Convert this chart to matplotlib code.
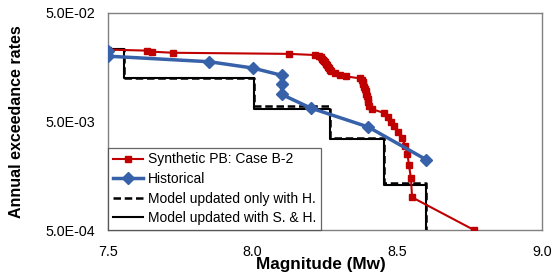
import numpy as np
import matplotlib
matplotlib.use("Agg")
import matplotlib.pyplot as plt
from matplotlib.ticker import FixedLocator, FuncFormatter

plt.rcParams['font.family'] = ['Liberation Sans', 'DejaVu Sans']

# Synthetic PB: Case B-2 (rate = n / 2000 yr)
synth_mag = [7.500, 7.635, 7.652, 7.725, 8.126, 8.215, 8.229, 8.236, 8.240, 8.243,
             8.247, 8.250, 8.254, 8.257, 8.260, 8.264, 8.267, 8.271, 8.285, 8.302,
             8.323, 8.371, 8.378, 8.380, 8.381, 8.385, 8.388, 8.390, 8.392, 8.395,
             8.397, 8.399, 8.402, 8.412, 8.454, 8.468, 8.478, 8.488, 8.502, 8.516,
             8.527, 8.535, 8.540, 8.547, 8.551, 8.765]
synth_count = list(range(46, 0, -1))
synth_rate = [c / 2000.0 for c in synth_count]

# Historical (rate = n / 450 yr)
hist_mag = [7.5, 7.5, 7.85, 8.0, 8.1, 8.1, 8.1, 8.2, 8.4, 8.6]
hist_count = [10, 9, 8, 7, 6, 5, 4, 3, 2, 1]
hist_rate = [c / 450.0 for c in hist_count]

# step models
step_mag = [7.5, 7.557, 8.005, 8.267, 8.454, 8.599]
only_h_rate = [2.33e-2, 1.26e-2, 7.00e-3, 3.52e-3, 1.36e-3, 1e-5]
s_and_h_rate = [2.33e-2, 1.26e-2, 6.52e-3, 3.45e-3, 1.30e-3, 1e-5]

fig = plt.figure(figsize=(5.53, 2.80), dpi=100)
ax = fig.add_axes([108 / 553, 50 / 280, 434 / 553, 217 / 280])

ax.plot(synth_mag, synth_rate, color='#C00000', lw=1.5, marker='s', ms=4.3,
        label='Synthetic PB: Case B-2', zorder=4)
ax.plot(hist_mag, hist_rate, color='#3761A8', lw=2.5, marker='D', ms=6,
        label='Historical', zorder=5)
ax.plot(step_mag, only_h_rate, color='black', lw=1.8, ls=(0, (3, 1.5)),
        drawstyle='steps-post', label='Model updated only with H.', zorder=3)
ax.plot(step_mag, s_and_h_rate, color='black', lw=1.5,
        drawstyle='steps-post', label='Model updated with S. & H.', zorder=2)

ax.set_yscale('log')
ax.set_xlim(7.5, 9.0)
ax.set_ylim(5e-4, 5e-2)
ax.xaxis.set_major_locator(FixedLocator([7.5, 8.0, 8.5, 9.0]))
ax.xaxis.set_major_formatter(FuncFormatter(lambda v, p: '%.1f' % v))
ax.yaxis.set_major_locator(FixedLocator([5e-4, 5e-3, 5e-2]))
ax.yaxis.set_minor_locator(FixedLocator([]))
ax.yaxis.set_major_formatter(FuncFormatter(lambda v, p: '%.1E' % v))
ax.tick_params(axis='both', length=0, labelsize=10.3)
ax.tick_params(axis='x', pad=11)
ax.tick_params(axis='y', pad=9.5)

for s in ax.spines.values():
    s.set_color('#808080')
    s.set_linewidth(1.0)

ax.set_xlabel('Magnitude (Mw)', fontsize=12.3, fontweight='bold')
ax.xaxis.set_label_coords(0.49, -0.125)
ax.set_ylabel('Annual exceedance rates', fontsize=11.5, fontweight='bold')
ax.yaxis.set_label_coords(-0.194, 0.5)

leg = ax.legend(loc='lower left', bbox_to_anchor=(0, 0), borderaxespad=0,
                fancybox=False, fontsize=10, handlelength=2.2,
                handletextpad=0.3, labelspacing=0.4, borderpad=0.35)
leg.get_frame().set_edgecolor('#404040')
leg.get_frame().set_linewidth(0.9)

fig.savefig('out.png', dpi=100)
